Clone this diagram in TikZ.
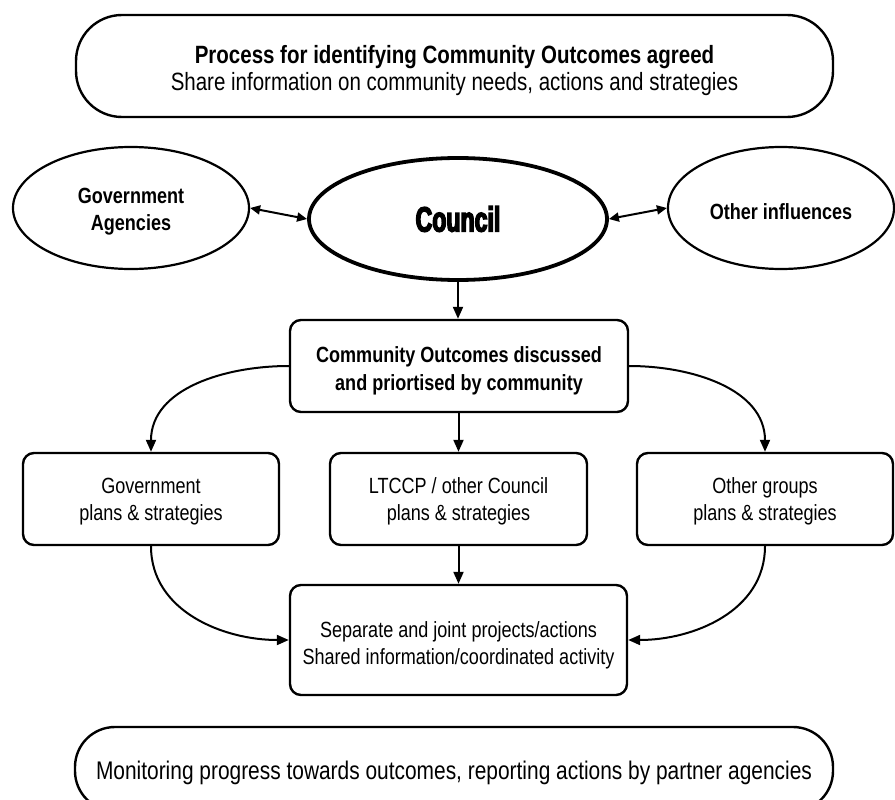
\documentclass[tikz,border=0pt]{standalone}
\usepackage{fontspec}
\setmainfont{Liberation Sans}
\newfontfamily\narrowfont[FakeStretch=0.82]{Liberation Sans}
\newfontfamily\councilfont[FakeStretch=0.66,FakeBold=4]{Liberation Sans Bold}
\usetikzlibrary{shapes.geometric,arrows.meta}
\tikzset{
  every node/.style={font=\narrowfont\fontsize{22}{27}\selectfont, align=center},
  lift/.style={text height=#1, text depth=2pt},
  oval/.style={draw, ellipse, line width=2.2pt, inner sep=0pt},
  box/.style={draw, rectangle, rounded corners=11pt, line width=2.4pt, inner sep=0pt},
  pill/.style={draw, rectangle, line width=2.4pt, inner sep=0pt},
  arr/.style={line width=2pt, -{Triangle[length=12pt,width=10pt]}},
  dblarr/.style={line width=2pt, {Triangle[length=10pt,width=9pt]}-{Triangle[length=10pt,width=9pt]}},
}
\begin{document}
\begin{tikzpicture}[x=1pt,y=-1pt]
\useasboundingbox (0,0) rectangle (895,800);
\fill[white] (0,0) rectangle (895,800);
% top pill
\node[pill, rounded corners=46pt, minimum width=757pt, minimum height=102pt, lift=52pt] (top) at (454.5,66)
  {\fontsize{25}{30}\selectfont\bfseries Process for identifying Community Outcomes agreed\\[1pt]
   \fontsize{25}{30}\selectfont Share information on community needs, actions and strategies};
% ellipses
\node[oval, lift=46pt, minimum width=236pt, minimum height=122pt] (gov) at (131,208)
  {\bfseries Government\\ \bfseries Agencies};
\node[oval, line width=3.8pt, minimum width=298pt, minimum height=122pt] (council) at (458,219)
  {\councilfont\fontsize{35}{40}\selectfont Council};
\node[oval, lift=24pt, minimum width=226pt, minimum height=122pt] (other) at (781,208)
  {\bfseries Other influences};
% boxes
\node[box, lift=50pt, minimum width=338pt, minimum height=92pt] (co) at (459,366)
  {\bfseries Community Outcomes discussed\\[1pt] \bfseries and priortised by community};
\node[box, lift=44pt, minimum width=256pt, minimum height=92pt] (gp) at (151,499)
  {Government\\plans \& strategies};
\node[box, lift=44pt, minimum width=257pt, minimum height=92pt] (lp) at (458.5,499)
  {LTCCP / other Council\\plans \& strategies};
\node[box, lift=44pt, minimum width=256pt, minimum height=92pt] (op) at (765,499)
  {Other groups\\plans \& strategies};
\node[box, lift=50pt, minimum width=337pt, minimum height=110pt] (sep) at (458.5,640)
  {Separate and joint projects/actions\\Shared information/coordinated activity};
% bottom pill (runs past the lower edge)
\node[pill, rounded corners=40pt, minimum width=758pt, minimum height=84pt, lift=22pt] (bottom) at (454,769)
  {\fontsize{25.5}{30}\selectfont Monitoring progress towards outcomes, reporting actions by partner agencies};
% connectors
\draw[dblarr] (gov.east) -- (council.west);
\draw[dblarr] (council.east) -- (other.west);
\draw[arr] (council.south) -- (co.north -| council.south);
\draw[arr] (co.south -| lp.north) -- (lp.north);
\draw[arr] (lp.south) -- (sep.north -| lp.south);
\draw[arr] (co.west) to[out=180,in=90] (gp.north);
\draw[arr] (co.east) to[out=0,in=90] (op.north);
\draw[arr] (gp.south) to[out=-90,in=180] (sep.west);
\draw[arr] (op.south) to[out=-90,in=0] (sep.east);
\end{tikzpicture}
\end{document}
